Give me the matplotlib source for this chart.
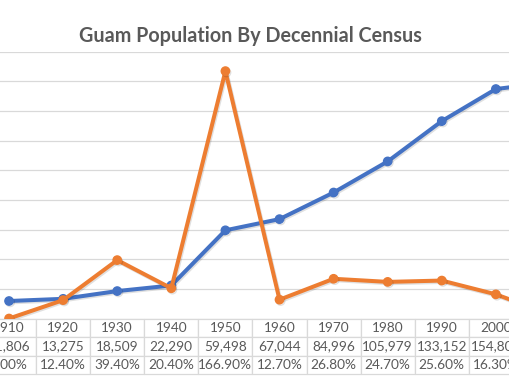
import matplotlib.pyplot as plt
import matplotlib.patheffects as pe

# census data (2010 column sits mostly off the right edge)
years = [1910, 1920, 1930, 1940, 1950, 1960, 1970, 1980, 1990, 2000, 2010]
population = [11806, 13275, 18509, 22290, 59498, 67044, 84996, 105979, 133152, 154805, 159358]
growth_pct = [0.0, 12.4, 39.4, 20.4, 166.9, 12.7, 26.8, 24.7, 25.6, 16.3, 2.9]

blue = '#4472C4'
orange = '#ED7D31'
grey_text = '#595959'
grid_col = '#D9D9D9'
font = 'Lato'

fig = plt.figure(figsize=(5.1, 3.82), dpi=100)
# plot area is wider than the picture: the chart was cropped on both sides
ax = fig.add_axes([-0.0353, 0.1662, 1.1667, 0.6985])
ax2 = ax.twinx()

x = list(range(len(years)))
shadow = [pe.SimpleLineShadow(offset=(0.8, -1), alpha=0.12), pe.Normal()]

ax.plot(x, population, color=blue, lw=2.9, marker='o', ms=6,
        solid_capstyle='round', path_effects=shadow)
ax2.plot(x, growth_pct, color=orange, lw=2.9, marker='o', ms=6,
         solid_capstyle='round', path_effects=shadow)

ax.set_xlim(-0.5, len(years) - 0.5)
ax.set_ylim(0, 180000)
ax.set_yticks(range(0, 180001, 20000))
ax2.set_ylim(0, 180)
ax.grid(axis='y', color=grid_col, lw=0.9)
ax.set_axisbelow(True)
for a in (ax, ax2):
    for s in a.spines.values():
        s.set_visible(False)
    a.tick_params(left=False, right=False, bottom=False,
                  labelleft=False, labelright=False, labelbottom=False)

# data table under the plot
cells = [[str(y) for y in years],
         [f'{p:,}' for p in population],
         [f'{g:.2f}%' for g in growth_pct]]
tbl = ax.table(cellText=cells, cellLoc='center', bbox=[0, -0.208, 1, 0.208])
tbl.auto_set_font_size(False)
tbl.set_fontsize(9.8)
for cell in tbl.get_celld().values():
    cell.set_edgecolor(grid_col)
    cell.set_linewidth(0.9)
    cell.get_text().set_color(grey_text)
    cell.get_text().set_fontfamily(font)

fig.text(0.492, 0.906, 'Guam Population By Decennial Census', ha='center', va='center',
         fontsize=14.2, fontweight='bold', color=grey_text, family=font)

plt.savefig('out.png')
